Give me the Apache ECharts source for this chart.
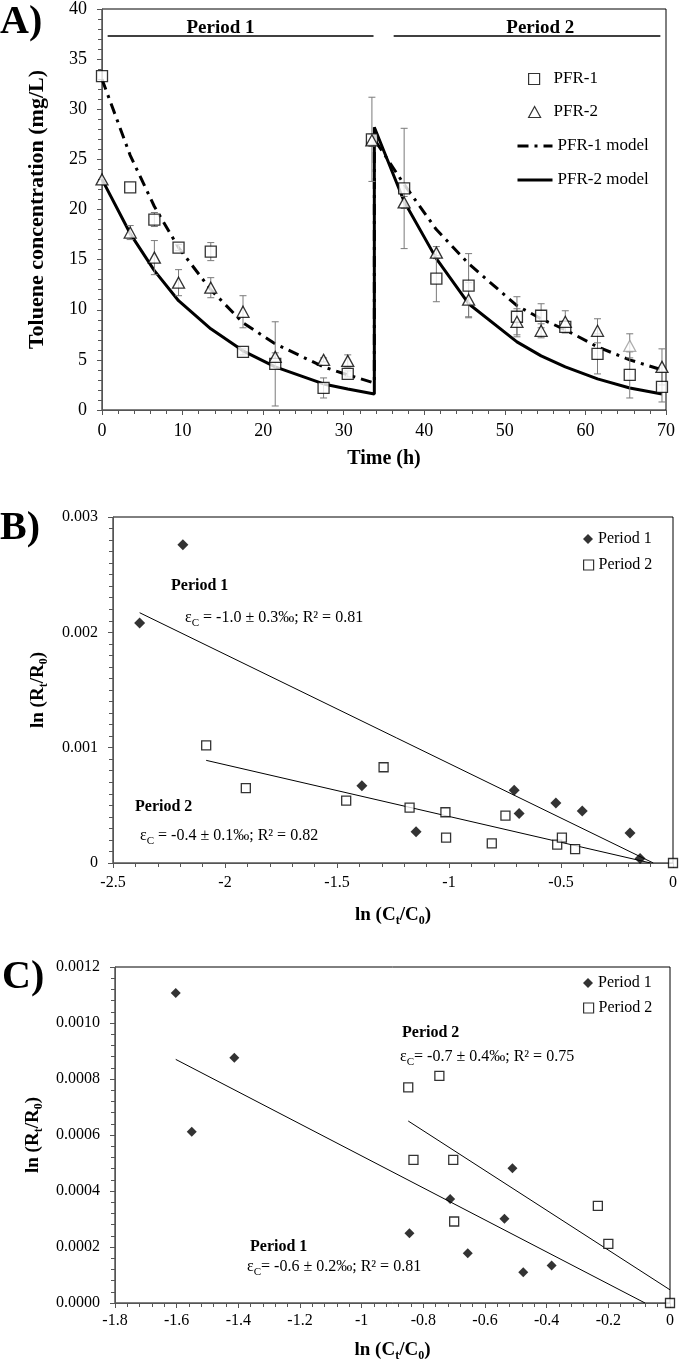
<!DOCTYPE html>
<html><head><meta charset="utf-8">
<script src="https://cdn.jsdelivr.net/npm/echarts@6/dist/echarts.min.js"></script>
<style>html,body{margin:0;padding:0;background:#fff}#c{width:680px;height:1367px}</style>
</head><body><div id="c"></div><script>
const FONT = '"Liberation Serif", "Times New Roman", serif';

// ---------- Panel A data ----------
const timeA   = [0, 3.5, 6.5, 9.5, 13.5, 17.5, 21.5, 27.5, 30.5, 33.5, 37.5, 41.5, 45.5, 51.5, 54.5, 57.5, 61.5, 65.5, 69.5];
const pfr1    = [33.3, 22.2, 19.0, 16.2, 15.8, 5.8, 4.6, 2.2, 3.6, 27.0, 22.1, 13.1, 12.4, 9.3, 9.4, 8.3, 5.6, 3.5, 2.3];
const pfr1Err = [0, 0, 0.7, 0.3, 0.9, 0.3, 4.2, 1.0, 0.3, 4.2, 6.0, 2.3, 3.2, 2.0, 1.2, 0.6, 2.0, 2.3, 1.5];
const pfr2    = [23.0, 17.7, 15.2, 12.7, 12.2, 9.8, 5.3, 5.0, 4.9, 26.9, 20.7, 15.7, 11.0, 8.8, 7.9, 8.8, 7.9, 6.4, 4.3];
const pfr2Err = [0, 0.7, 1.7, 1.3, 1.0, 1.6, 0.4, 0.2, 0.6, 0.6, 0.6, 0.6, 1.7, 1.3, 0.7, 1.1, 1.2, 1.2, 1.8];
const modelTime = [0, 3.5, 6.5, 9.5, 13.5, 17.5, 21.5, 27.5, 30.5, 33.8, 33.8, 37.5, 41.5, 45.5, 51.5, 54.5, 57.5, 61.5, 65.5, 69.5];
const pfr1Model = [33.0, 25.4, 20.3, 16.2, 12.0, 8.7, 6.6, 4.3, 3.5, 2.7, 27.0, 22.5, 18.0, 14.6, 10.4, 9.1, 8.0, 6.3, 5.0, 4.0];
const pfr2Model = [23.0, 17.6, 13.9, 10.9, 8.1, 5.9, 4.3, 2.6, 2.1, 1.6, 28.2, 20.8, 15.1, 10.6, 6.8, 5.4, 4.3, 3.1, 2.2, 1.6];
const periodNames  = ['Period 1', 'Period 2'];
const periodStart  = [0.7, 36.2];
const periodEnd    = [33.7, 69.3];
const periodLabelX = [14.7, 54.4];
const periodLineY  = 37.3;
const periodLabelY = 38.1;
const grayPointIndex = 17;

// ---------- Panel B data ----------
const b1x = [-2.381, -2.188, -1.389, -1.147, -0.709, -0.687, -0.523, -0.405, -0.192, -0.147];
const b1y = [0.00208, 0.00276, 0.00067, 0.00027, 0.00063, 0.00043, 0.00052, 0.00045, 0.00026, 0.00004];
const b2x = [-2.084, -1.907, -1.459, -1.292, -1.176, -1.016, -1.013, -0.809, -0.748, -0.517, -0.496, -0.437, 0];
const b2y = [0.00102, 0.00065, 0.00054, 0.00083, 0.00048, 0.00044, 0.00022, 0.00017, 0.00041, 0.00016, 0.00022, 0.00012, 0];
const bTrend1x = [-2.381, -0.088], bTrend1y = [0.00217, 0];
const bTrend2x = [-2.084, -0.100], bTrend2y = [0.00089, 0];

// ---------- Panel C data ----------
const c1x = [-1.603, -1.551, -1.413, -0.845, -0.713, -0.656, -0.537, -0.511, -0.476, -0.384];
const c1y = [0.001107, 0.000612, 0.000876, 0.000249, 0.000371, 0.000178, 0.000301, 0.000481, 0.000110, 0.000134];
const c2x = [-0.849, -0.832, -0.748, -0.703, -0.700, -0.234, -0.200, 0];
const c2y = [0.000770, 0.000511, 0.000811, 0.000511, 0.000291, 0.000347, 0.000211, 0];
const cTrend1x = [-1.603, -0.081], cTrend1y = [0.00087, 0];
const cTrend2x = [-0.849, 0], cTrend2y = [0.00065, 0.000047];

// ---------- helpers ----------
const zip = (xs, ys) => xs.map((x, i) => [x, ys[i]]);
const errData = (xs, ys, es) => xs.map((x, i) => [x, ys[i] - es[i], ys[i] + es[i], es[i]]).filter(d => d[3] > 0);

function errRender(params, api) {
  const x = api.value(0);
  const p1 = api.coord([x, api.value(1)]);
  const p2 = api.coord([x, api.value(2)]);
  const w = 3.5;
  const st = { stroke: '#7a7a7a', lineWidth: 1 };
  return { type: 'group', children: [
    { type: 'line', shape: { x1: p1[0], y1: p1[1], x2: p2[0], y2: p2[1] }, style: st },
    { type: 'line', shape: { x1: p1[0] - w, y1: p1[1], x2: p1[0] + w, y2: p1[1] }, style: st },
    { type: 'line', shape: { x1: p2[0] - w, y1: p2[1], x2: p2[0] + w, y2: p2[1] }, style: st }
  ]};
}

function periodRender(params, api) {
  const i = params.dataIndex;
  const a = api.coord([api.value(0), api.value(3)]);
  const b = api.coord([api.value(1), api.value(3)]);
  const t = api.coord([api.value(2), api.value(4)]);
  return { type: 'group', children: [
    { type: 'line', shape: { x1: a[0], y1: a[1], x2: b[0], y2: b[1] }, style: { stroke: '#000', lineWidth: 1.5 } },
    { type: 'text', style: { text: periodNames[i], x: t[0], y: t[1], align: 'center', verticalAlign: 'middle',
      fontSize: 19, fontWeight: 'bold', fontFamily: FONT, fill: '#000' } }
  ]};
}

function axis(o) {
  return {
    type: 'value', gridIndex: o.grid, min: o.min, max: o.max, interval: o.interval,
    splitLine: { show: false },
    axisLine: { show: true, onZero: false, lineStyle: { color: '#555', width: 1 } },
    axisTick: { show: true, length: 5, lineStyle: { color: '#555' } },
    minorTick: { show: true, splitNumber: o.minor, length: 4, lineStyle: { color: '#555' } },
    axisLabel: { color: '#000', fontFamily: FONT, fontSize: o.fs, margin: o.margin, formatter: o.fmt },
    name: o.name, nameLocation: 'middle', nameGap: o.nameGap,
    nameTextStyle: Object.assign({ color: '#000', fontFamily: FONT, fontWeight: 'bold', fontSize: o.nfs }, o.nts || {})
  };
}

const subRich = {
  s: { fontSize: 12, fontWeight: 'bold', fontFamily: FONT, color: '#000', verticalAlign: 'bottom', lineHeight: 12 }
};

function note(text, x, y, bold) {
  return {
    type: 'text', z: 100,
    style: {
      text: text, x: x, y: y, verticalAlign: 'middle', align: 'left',
      fontSize: 16, fontFamily: FONT, fontWeight: bold ? 'bold' : 'normal', fill: '#000', lineHeight: 22,
      rich: { s: { fontSize: 11, fontFamily: FONT, fill: '#000', verticalAlign: 'bottom', lineHeight: 12 } }
    }
  };
}

function legendItem(name, left, centerY, w, h, fs, extra, textPad) {
  const d = Object.assign({ name: name }, extra || {});
  return {
    data: [d], left: left, top: centerY - fs / 2, padding: 0, itemGap: 0, orient: 'vertical',
    itemWidth: w, itemHeight: h, selectedMode: false,
    textStyle: { color: '#000', fontFamily: FONT, fontSize: fs, padding: [0, 0, 0, textPad || 0] },
    itemStyle: { borderWidth: 1.2 },
    lineStyle: { width: 3 }
  };
}

const squareStyle = { color: '#fff', borderColor: '#000', borderWidth: 1.3 };
const diamondStyle = { color: '#000' };

const option = {
  animation: false,
  backgroundColor: '#fff',
  grid: [
    { left: 102, top: 7, width: 564, height: 403, show: true, borderColor: '#000', borderWidth: 1 },
    { left: 113, top: 517, width: 560, height: 346, show: true, borderColor: '#000', borderWidth: 1 },
    { left: 115, top: 967, width: 555, height: 336, show: true, borderColor: '#000', borderWidth: 1 }
  ],
  xAxis: [
    axis({ grid: 0, min: 0, max: 70, interval: 10, minor: 5, fs: 18, margin: 12, name: 'Time (h)', nameGap: 39, nfs: 20 }),
    axis({ grid: 1, min: -2.5, max: 0, interval: 0.5, minor: 5, fs: 16, margin: 12, name: 'ln (C{s|t}/C{s|0})', nameGap: 40, nfs: 19, nts: { lineHeight: 24, rich: subRich } }),
    axis({ grid: 2, min: -1.8, max: 0, interval: 0.2, minor: 5, fs: 16, margin: 10, name: 'ln (C{s|t}/C{s|0})', nameGap: 35, nfs: 19, nts: { lineHeight: 24, rich: subRich } })
  ],
  yAxis: [
    axis({ grid: 0, min: 0, max: 40, interval: 5, minor: 5, fs: 18, margin: 15, name: 'Toluene concentration (mg/L)', nameGap: 54, nfs: 22 }),
    axis({ grid: 1, min: 0, max: 0.003, interval: 0.001, minor: 10, fs: 16, margin: 15, name: 'ln (R{s|t}/R{s|0})', nameGap: 63, nfs: 19, nts: { lineHeight: 24, rich: subRich } }),
    axis({ grid: 2, min: 0, max: 0.0012, interval: 0.0002, minor: 5, fs: 16, margin: 15, fmt: v => v.toFixed(4), name: 'ln (R{s|t}/R{s|0})', nameGap: 65, nfs: 19, nts: { lineHeight: 24, rich: subRich } })
  ],
  legend: [
    legendItem('PFR-1', 528, 79, 11, 11, 17, null, 9),
    legendItem('PFR-2', 528, 112, 12, 11, 17, null, 8),
    legendItem('PFR-1 model', 516, 146, 35, 11, 17, { itemStyle: { opacity: 0 } }),
    legendItem('PFR-2 model', 516, 180, 35, 11, 17, { itemStyle: { opacity: 0 } }),
    legendItem('Period 1', 583, 539, 10, 10, 16),
    legendItem('Period 2', 583, 565, 10, 10, 16),
    legendItem('Period 1', 583, 983, 10, 10, 16),
    legendItem('Period 2', 583, 1008, 10, 10, 16)
  ],
  graphic: [
    { type: 'text', left: 0, top: 3, style: { text: 'A)', fontSize: 40, fontWeight: 'bold', fontFamily: FONT, fill: '#000' } },
    { type: 'text', left: 0, top: 509, style: { text: 'B)', fontSize: 40, fontWeight: 'bold', fontFamily: FONT, fill: '#000' } },
    { type: 'text', left: 2, top: 958, style: { text: 'C)', fontSize: 40, fontWeight: 'bold', fontFamily: FONT, fill: '#000' } },
    note('Period 1', 171, 586, true),
    note('ε{s|C} = -1.0 ± 0.3‰; R² = 0.81', 185, 618, false),
    note('Period 2', 135, 807, true),
    note('ε{s|C} = -0.4 ± 0.1‰; R² = 0.82', 140, 836, false),
    note('Period 2', 402, 1033, true),
    note('ε{s|C}= -0.7 ± 0.4‰; R² = 0.75', 400, 1057, false),
    note('Period 1', 250, 1247, true),
    note('ε{s|C}= -0.6 ± 0.2‰; R² = 0.81', 247, 1267, false)
  ],
  series: [
    // Panel A
    { name: 'PFR-1 model', type: 'line', xAxisIndex: 0, yAxisIndex: 0, data: zip(modelTime, pfr1Model),
      symbol: 'none', showSymbol: false, z: 2, lineStyle: { color: '#000', width: 3, type: [11, 6, 3, 6] }, itemStyle: { color: '#000' } },
    { name: 'PFR-2 model', type: 'line', xAxisIndex: 0, yAxisIndex: 0, data: zip(modelTime, pfr2Model),
      symbol: 'none', showSymbol: false, z: 2, lineStyle: { color: '#000', width: 3 }, itemStyle: { color: '#000' } },
    { name: 'errA1', type: 'custom', xAxisIndex: 0, yAxisIndex: 0, data: errData(timeA, pfr1, pfr1Err),
      encode: { x: 0, y: [1, 2] }, renderItem: errRender, z: 3, silent: true },
    { name: 'errA2', type: 'custom', xAxisIndex: 0, yAxisIndex: 0, data: errData(timeA, pfr2, pfr2Err),
      encode: { x: 0, y: [1, 2] }, renderItem: errRender, z: 3, silent: true },
    { name: 'PFR-1', type: 'scatter', xAxisIndex: 0, yAxisIndex: 0, data: zip(timeA, pfr1),
      symbol: 'rect', symbolSize: 11, clip: false, z: 4, itemStyle: squareStyle },
    { name: 'PFR-2', type: 'scatter', xAxisIndex: 0, yAxisIndex: 0,
      data: zip(timeA, pfr2).map((d, i) => i === grayPointIndex ? { value: d, itemStyle: { borderColor: '#9a9a9a' } } : d),
      symbol: 'triangle', symbolSize: [12, 11], clip: false, z: 5, itemStyle: squareStyle },
    { name: 'periods', type: 'custom', xAxisIndex: 0, yAxisIndex: 0,
      data: periodNames.map((n, i) => [periodStart[i], periodEnd[i], periodLabelX[i], periodLineY, periodLabelY]),
      encode: { x: [0, 1, 2], y: 3 }, renderItem: periodRender, z: 6, silent: true },
    // Panel B
    { name: 'trendB1', type: 'line', xAxisIndex: 1, yAxisIndex: 1, data: zip(bTrend1x, bTrend1y), symbol: 'none', z: 2,
      lineStyle: { color: '#000', width: 1 } },
    { name: 'trendB2', type: 'line', xAxisIndex: 1, yAxisIndex: 1, data: zip(bTrend2x, bTrend2y), symbol: 'none', z: 2,
      lineStyle: { color: '#000', width: 1 } },
    { name: 'Period 1', type: 'scatter', xAxisIndex: 1, yAxisIndex: 1, data: zip(b1x, b1y),
      symbol: 'diamond', symbolSize: 11, clip: false, z: 4, itemStyle: diamondStyle },
    { name: 'Period 2', type: 'scatter', xAxisIndex: 1, yAxisIndex: 1, data: zip(b2x, b2y),
      symbol: 'rect', symbolSize: 9, clip: false, z: 4, itemStyle: squareStyle },
    // Panel C
    { name: 'trendC1', type: 'line', xAxisIndex: 2, yAxisIndex: 2, data: zip(cTrend1x, cTrend1y), symbol: 'none', z: 2,
      lineStyle: { color: '#000', width: 1 } },
    { name: 'trendC2', type: 'line', xAxisIndex: 2, yAxisIndex: 2, data: zip(cTrend2x, cTrend2y), symbol: 'none', z: 2,
      lineStyle: { color: '#000', width: 1 } },
    { name: 'Period 1', type: 'scatter', xAxisIndex: 2, yAxisIndex: 2, data: zip(c1x, c1y),
      symbol: 'diamond', symbolSize: 10, clip: false, z: 4, itemStyle: diamondStyle },
    { name: 'Period 2', type: 'scatter', xAxisIndex: 2, yAxisIndex: 2, data: zip(c2x, c2y),
      symbol: 'rect', symbolSize: 9, clip: false, z: 4, itemStyle: squareStyle }
  ]
};

const chart = echarts.init(document.getElementById('c'), null, { renderer: 'canvas' });
chart.setOption(option);
</script></body></html>
